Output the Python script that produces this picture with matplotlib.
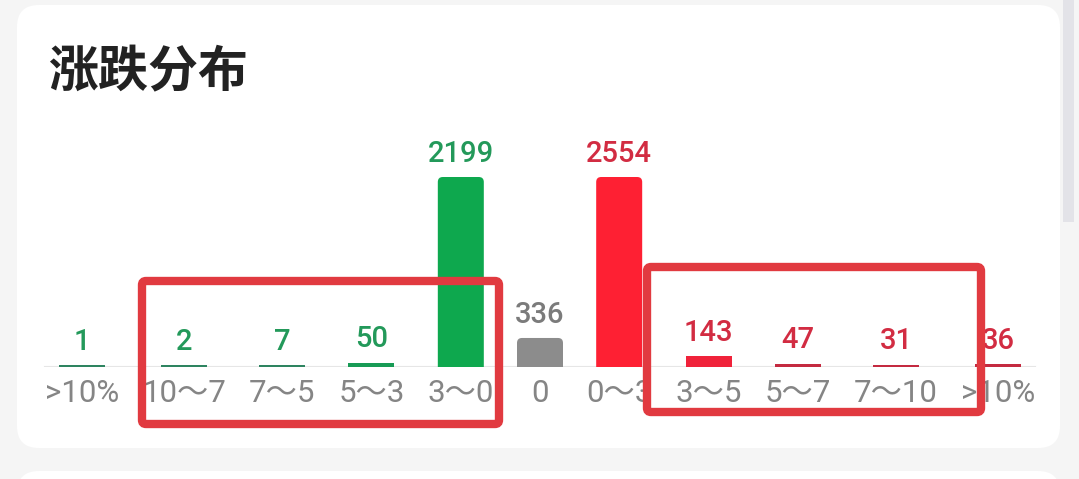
import numpy as np
import matplotlib
matplotlib.use("Agg")
import matplotlib.pyplot as plt
from matplotlib.patches import FancyBboxPatch
from matplotlib.transforms import Affine2D

# 涨跌分布 数据
labels = [">10%", "10～7", "7～5", "5～3", "3～0", "0", "0～3", "3～5", "5～7", "7～10", ">10%"]
values = [1, 2, 7, 50, 2199, 336, 2554, 143, 47, 31, 36]
sides = ["down", "down", "down", "down", "down", "flat", "up", "up", "up", "up", "up"]
bar_colors = ["#2e8460", "#2e8460", "#2e8460", "#179b55", "#0ea84e", "#8c8c8c",
              "#fe2033", "#f0223a", "#c42a40", "#c42a40", "#c42a40"]
text_colors = ["#23995a"] * 5 + ["#7b7b7b"] + ["#d22c42"] * 5

W, H = 1079, 479
NUM_FONT = ["Roboto", "Noto Sans CJK SC", "DejaVu Sans"]
TICK_FS = 22.5
VAL_FS = 21
BAR_W = 46
GAP = 23


def main():
    fig = plt.figure(figsize=(W / 100, H / 100), dpi=100, facecolor="#f5f5f5")
    # pixel coords, origin bottom-left
    px = Affine2D().scale(1 / W, 1 / H) + fig.transFigure

    def rbox(x0, top, x1, bottom, r, z=0, **kw):
        # top/bottom given as pixel rows from the top of the image
        p = FancyBboxPatch((x0, H - bottom), x1 - x0, bottom - top,
                           boxstyle=f"round,pad=0,rounding_size={r}",
                           transform=px, zorder=z, **kw)
        fig.add_artist(p)
        return p

    # cards + scrollbar
    rbox(17, 5, 1060, 448, 22, facecolor="white", edgecolor="none")
    rbox(17, 471, 1060, 520, 22, facecolor="white", edgecolor="none")
    rbox(1063, -5, 1074, 222, 0.1, facecolor="#e3e3e8", edgecolor="none")

    fig.text(48 / W, 1 - 73 / H, "涨跌分布", fontsize=36, fontweight="bold",
             family="Noto Sans CJK SC", color="#222222", va="center", ha="left")

    # item widths from label widths, like the flex layout in the app
    renderer = fig.canvas.get_renderer()
    widths = []
    for lab in labels:
        t = fig.text(0, 0, lab, fontsize=TICK_FS, family=NUM_FONT)
        widths.append(max(t.get_window_extent(renderer).width, BAR_W))
        t.remove()
    widths = np.array(widths)
    lefts = np.concatenate([[0], np.cumsum(widths + GAP)[:-1]])
    centers = lefts + widths / 2
    centers = centers - (centers[0] + centers[-1]) / 2 + 540

    # bar heights: each side scaled to its own max
    vals = np.array(values, dtype=float)
    down_max = vals[[s == "down" for s in sides]].max()
    up_max = vals[[s == "up" for s in sides]].max()
    scale = np.array([up_max if s == "up" else down_max for s in sides])
    heights = np.maximum(vals / scale, 0.008)

    base_y = 367
    full_h = 190
    ax = fig.add_axes([0, (H - base_y) / H, 1, full_h / H])
    ax.set_zorder(5)
    ax.set_xlim(0, W)
    ax.set_ylim(0, 1)
    ax.patch.set_alpha(0)
    for s in ax.spines.values():
        s.set_visible(False)
    ax.set_yticks([])

    ax.axhline(0, xmin=45 / W, xmax=1035 / W, color="#e6e6e6", lw=1.5, zorder=1)
    bars = ax.bar(centers, heights, width=BAR_W, color=bar_colors, zorder=2)

    # rounded tops: swap the taller rectangles for rounded boxes
    r_px = 5
    for rect in bars:
        h = rect.get_height()
        if h * full_h < 3 * r_px:
            continue
        rb = FancyBboxPatch((rect.get_x(), -r_px / full_h), rect.get_width(),
                            h + r_px / full_h,
                            boxstyle=f"round,pad=0,rounding_size={r_px}",
                            mutation_aspect=1 / full_h,
                            facecolor=rect.get_facecolor(), edgecolor="none",
                            zorder=2)
        ax.add_patch(rb)
        rect.set_visible(False)
    ax.set_ylim(0, 1)

    for x, h, v, c in zip(centers, heights, values, text_colors):
        ax.annotate(str(v), (x, h), xytext=(0, 11), textcoords="offset points",
                    ha="center", va="baseline", fontsize=VAL_FS, color=c,
                    family=NUM_FONT, fontweight="medium", annotation_clip=False)

    ax.set_xticks(centers, labels)
    ax.tick_params(axis="x", length=0, pad=9, labelsize=TICK_FS, labelcolor="#858585")
    for t in ax.get_xticklabels():
        t.set_family(NUM_FONT)

    # red annotation boxes
    box_kw = dict(facecolor="none", edgecolor="#e13a40", linewidth=6)
    rbox(142, 281, 499, 424, 4, z=10, **box_kw)
    rbox(647, 267, 981, 412, 4, z=10, **box_kw)

    fig.savefig("out.png", dpi=100, facecolor=fig.get_facecolor())
    plt.close(fig)


if __name__ == "__main__":
    main()
